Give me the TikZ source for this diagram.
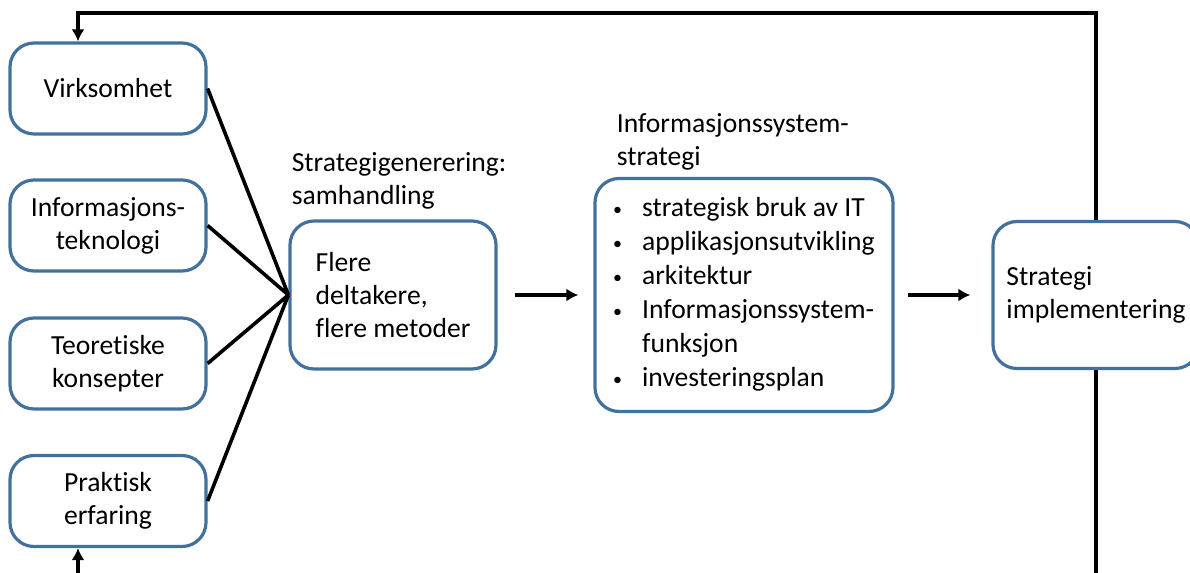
\documentclass[tikz,border=0pt]{standalone}
\usepackage{fontspec}
\setmainfont{Carlito}[Ligatures=NoCommon]
\usepackage{xcolor}
\usetikzlibrary{arrows.meta}
\definecolor{boxblue}{HTML}{41719C}
\newcommand\punkt{\raisebox{0.8pt}{\fontsize{9}{9}\selectfont\textbullet}}

\begin{document}
\begin{tikzpicture}[x=0.5pt, y=-0.5pt, line width=1.8pt,
        every node/.style={font=\fontsize{13.8}{16.5}\selectfont},
        box/.style={draw=boxblue, line width=1.6pt, rounded corners=12pt, align=center,
                    inner sep=0pt, minimum width=98pt, minimum height=45.5pt},
        title/.style={anchor=west, align=left, inner sep=0pt},
        pil/.style={-{Latex[length=6pt,width=6.5pt]}}]
        \useasboundingbox (0,0) rectangle (1190,573);
        \clip (0,0) rectangle (1190,573);

        \node[box](virk) at (108, 88.5) {Virksomhet};
        \node[box](infotek) at (108, 225.5) {Informasjons-\\teknologi};
        \node[box](teori) at (108, 363.5) {Teoretiske\\konsepter};
        \node[box](praksis) at (108, 501) {Praktisk\\erfaring};

        \node[title](gentitle) at (290, 181) {Strategigenerering:\\samhandling};
        \node[box, align=left, minimum width=103pt, minimum height=74pt](flere) at (393, 295)
            {Flere\\deltakere,\\flere metoder};

        \node[title](istitle) at (615, 142) {Informasjonssystem-\\strategi};
        \node[box, minimum width=149pt, minimum height=116.5pt,
              font=\fontsize{13.8}{17}\selectfont](isplan) at (744, 295) {%
            \begin{tabular}{@{}l@{\hspace{10pt}}l@{}}
                \punkt & strategisk bruk av IT\\
                \punkt & applikasjonsutvikling\\
                \punkt & arkitektur\\
                \punkt & Informasjonssystem-\\
                       & funksjon\\
                \punkt & investeringsplan
            \end{tabular}};

        \node[box, align=left, minimum width=103pt, minimum height=73.5pt](impl) at (1096, 295)
            {Strategi\\implementering};

        \coordinate(topleft) at (78, 13);
        \coordinate(botleft) at (78, 620);

        \draw (virk.east) -- (flere.west) (infotek.east) -- (flere.west)
              (teori.east) -- (flere.west) (praksis.east) -- (flere.west);
        \draw[pil, shorten <=8.5pt, shorten >=7.5pt] (flere) -- (isplan);
        \draw[pil, shorten <=6.5pt, shorten >=10.5pt] (isplan) -- (impl);
        \draw[pil] (impl.north) |- (topleft) -- (topleft |- virk.north);
        \draw[pil] (impl.south) |- (botleft) -- (botleft |- praksis.south);
\end{tikzpicture}
\end{document}
